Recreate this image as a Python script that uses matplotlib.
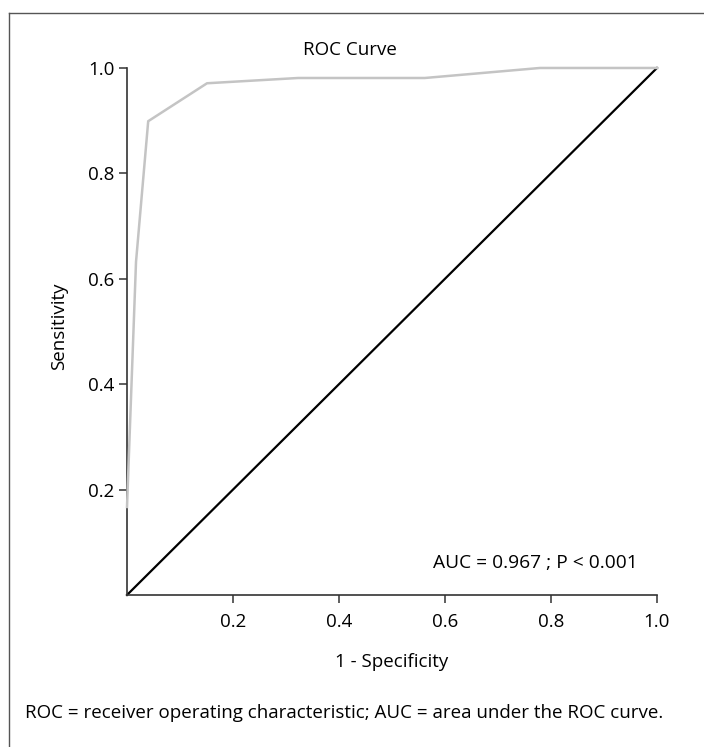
import matplotlib.pyplot as plt
from matplotlib.lines import Line2D

plt.rcParams['font.family'] = ['Open Sans', 'DejaVu Sans']

# ROC curve points
fpr = [0.0, 0.017, 0.040, 0.151, 0.323, 0.562, 0.779, 1.0]
tpr = [0.167, 0.632, 0.899, 0.971, 0.981, 0.981, 1.0, 1.0]
ref = [0.0, 1.0]
ticks = [0.2, 0.4, 0.6, 0.8, 1.0]
tick_labels = ['0.2', '0.4', '0.6', '0.8', '1.0']

fs = 13.5

fig = plt.figure(figsize=(7.04, 7.47), dpi=100)
ax = fig.add_axes([0.1804, 0.2035, 0.7528, 0.7055])

ax.plot(ref, ref, color='black', lw=1.6, clip_on=False)
ax.plot(fpr, tpr, color='#c4c4c4', lw=1.8, clip_on=False, zorder=3)

ax.set_xlim(0, 1)
ax.set_ylim(0, 1)
ax.set_xticks(ticks)
ax.set_xticklabels(tick_labels)
ax.set_yticks(ticks)
ax.set_yticklabels(tick_labels)
ax.tick_params(labelsize=fs, length=6, width=1.1, color='#333333')
ax.tick_params(axis='x', pad=7)
ax.tick_params(axis='y', pad=3)
for s in ['top', 'right']:
    ax.spines[s].set_visible(False)
for s in ['left', 'bottom']:
    ax.spines[s].set_linewidth(1.2)
    ax.spines[s].set_color('#333333')

ax.set_xlabel('1 - Specificity', fontsize=fs, va='center')
ax.xaxis.set_label_coords(0.5, -0.127)
ax.set_ylabel('Sensitivity', fontsize=fs, va='center')
ax.yaxis.set_label_coords(-0.128, 0.51)
ax.text(0.421, 1.034, 'ROC Curve', ha='center', va='center', fontsize=fs,
        transform=ax.transAxes)
ax.text(0.577, 0.061, 'AUC = 0.967 ; P < 0.001', ha='left', va='center',
        fontsize=13.8)

fig.text(25 / 704, 1 - 713 / 747,
         'ROC = receiver operating characteristic; AUC = area under the ROC curve.',
         ha='left', va='center', fontsize=13.5)

# frame lines around the figure
fig.add_artist(Line2D([9 / 704, 9 / 704], [0, 1 - 13 / 747], color='#555555', lw=1.0))
fig.add_artist(Line2D([9 / 704, 1], [1 - 13 / 747, 1 - 13 / 747], color='#555555', lw=1.0))

plt.savefig('out.png')
